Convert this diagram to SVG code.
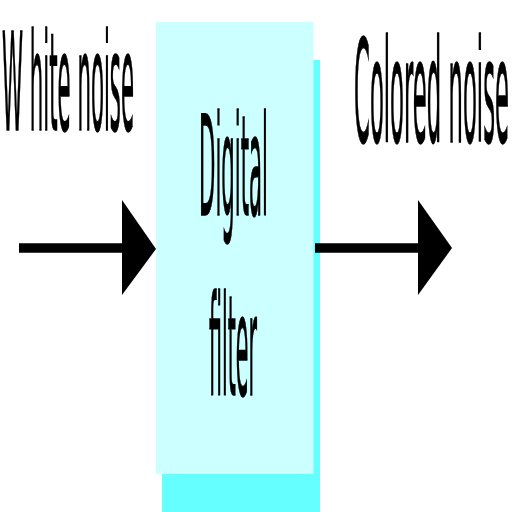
<svg xmlns="http://www.w3.org/2000/svg" width="512" height="512" viewBox="0 0 512 512">
<style>
.t{font-family:"DejaVu Sans","Liberation Sans",sans-serif;font-stretch:condensed;fill:#000;stroke:#000;stroke-width:1.3;}
.line{stroke:#000;stroke-width:9.5;fill:none;}
.head{fill:#000;}
</style>
<rect width="512" height="512" fill="#fff"/>
<g id="filter">
<rect x="162" y="60" width="158" height="452" fill="#66FFFF"/>
<rect x="156" y="22" width="157.5" height="452" fill="#CCFFFF"/>
<text class="t" x="199" y="215" font-size="139" textLength="69" lengthAdjust="spacingAndGlyphs">Digital</text>
<text class="t" x="209" y="395" font-size="139" textLength="48" lengthAdjust="spacingAndGlyphs">filter</text>
</g>
<g id="input">
<text class="t" x="2" y="130" font-size="136" textLength="132" lengthAdjust="spacingAndGlyphs">W hite noise</text>
</g>
<g id="output">
<text class="t" x="354" y="142" font-size="142" textLength="155" lengthAdjust="spacingAndGlyphs">Colored noise</text>
</g>
<g id="connectors">
<line class="line" x1="19" y1="248" x2="126" y2="248"/>
<polygon class="head" points="122,200 156,249 122,295"/>
<line class="line" x1="315" y1="248" x2="420" y2="248"/>
<polygon class="head" points="418,200 452,248 418,295"/>
</g>
</svg>
